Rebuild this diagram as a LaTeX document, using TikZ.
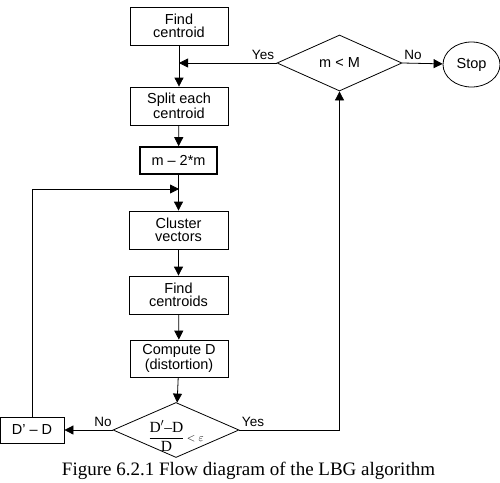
\documentclass[tikz,border=0pt]{standalone}
\usepackage{fontspec}
\setmainfont{Liberation Serif}
\setsansfont{Liberation Sans}
\usetikzlibrary{arrows.meta,shapes.geometric}

\begin{document}
\begin{tikzpicture}[x=1pt, y=-1pt,
  line width=0.8pt,
  >={Triangle[length=9pt,width=9pt]},
  stepbox/.style={draw, rectangle, align=center, inner sep=0pt,
    minimum width=98pt, minimum height=38pt,
    font=\sffamily\fontsize{14.5}{13.5}\selectfont},
  decision/.style={draw, diamond, inner sep=0pt},
  lbl/.style={font=\sffamily\fontsize{13.5}{13.5}\selectfont}
]

\useasboundingbox (0,0) rectangle (500,482);

% Main column
\node[stepbox] (findc0) at (179,26) {Find\\centroid};
\node[stepbox] (split) at (179,106) {Split each\\centroid};
\node[stepbox, line width=1.6pt, minimum width=77pt, minimum height=27pt] (double) at (178.5,160.5) {m -- 2*m};
\node[stepbox, minimum width=99pt] (cluster) at (178.5,230) {Cluster\\vectors};
\node[stepbox, minimum width=99pt] (findc) at (178.5,295) {Find\\centroids};
\node[stepbox, minimum height=37pt] (compute) at (179,358.5) {Compute D\\(distortion)};

% Decisions
\node[decision, minimum width=126pt, minimum height=55pt,
  label={[yshift=-6pt, font=\fontsize{15.5}{17}\selectfont]center:{$\displaystyle\frac{\textrm{D}'\textrm{--D}}{\textrm{D}}$\,{\fontsize{11}{11}\selectfont$<\varepsilon$}}}]
  (test) at (176,430) {};
\node[decision, minimum width=125pt, minimum height=56pt,
  label={[font=\sffamily\fontsize{14.5}{14.5}\selectfont]center:{m \textless{} M}}]
  (check) at (339.5,63) {};

% Side boxes
\node[stepbox, minimum width=64pt, minimum height=26pt] (update) at (32,430) {D' -- D};
\node[draw, ellipse, minimum width=57pt, minimum height=45pt, inner sep=0pt,
  font=\sffamily\fontsize{14.5}{14.5}\selectfont] (stop) at (471.5,64.5) {Stop};

% Junctions
\coordinate (join1) at (findc0 |- check);
\coordinate (join2) at (179,189);

% Connectors
\draw[->] (findc0) -- (split);
\draw[->] (check.west) -- (join1);
\draw[->] (split) -- (double);
\draw[->] (double) -- (cluster);
\draw[->] (update.north) |- (join2);
\draw[->] (cluster) -- (findc);
\draw[->] (findc) -- (compute);
\draw[->] (compute) -- (test);
\draw[->] (test.west) -- (update);
\draw[->] (test.east) -| (check.south);
\draw[->] (check.east) -- (stop);

% Branch labels
\node[lbl] (yes1) at (263,55) {Yes};
\node[lbl] (no1) at (413,55) {No};
\node[lbl] (no2) at (103,422) {No};
\node[lbl] (yes2) at (253,422) {Yes};

% Caption
\node[font=\fontsize{19}{20}\selectfont] (caption) at (248.5,471) {Figure 6.2.1 Flow diagram of the LBG algorithm};

\end{tikzpicture}
\end{document}
